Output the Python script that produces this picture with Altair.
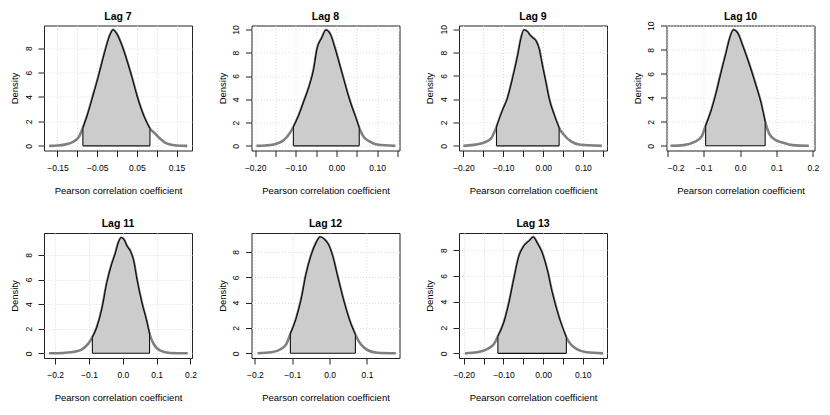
import json
import altair as alt
import pandas as pd

# ---------------- data ----------------
LAGS = ["Lag 7", "Lag 8", "Lag 9", "Lag 10", "Lag 11", "Lag 12", "Lag 13"]

LAG7_X = [-0.171, -0.150, -0.133, -0.108, -0.096, -0.086, -0.075, -0.058, -0.050, -0.042, -0.029, -0.017,
          -0.010, 0.000, 0.0125, 0.025, 0.0375, 0.050, 0.067, 0.083, 0.096, 0.108, 0.125, 0.150, 0.177]
LAG7_Y = [0.0, 0.03, 0.10, 0.38, 0.73, 1.46, 2.49, 4.39, 5.3, 6.29, 7.9, 9.13,
          9.49, 9.13, 8.19, 6.97, 5.6, 4.12, 2.49, 1.41, 1.0, 0.6, 0.2, 0.03, 0.0]
LAG7_CI = [-0.086, 0.083]

LAG8_X = [-0.197, -0.175, -0.155, -0.130, -0.106, -0.093, -0.081, -0.068, -0.056, -0.048, -0.036, -0.026,
          -0.015, -0.003, 0.0096, 0.022, 0.034, 0.047, 0.056, 0.067, 0.0836, 0.100, 0.145]
LAG8_Y = [0.0, 0.03, 0.11, 0.48, 1.62, 2.61, 3.75, 5.03, 6.59, 8.3, 9.29, 9.94,
          9.57, 8.3, 6.73, 5.17, 3.75, 2.47, 1.53, 0.77, 0.34, 0.11, 0.0]
LAG8_CI = [-0.106, 0.056]

LAG9_X = [-0.200, -0.156, -0.131, -0.117, -0.102, -0.090, -0.077, -0.064, -0.056, -0.048, -0.039, -0.033,
          -0.027, -0.018, -0.010, -0.002, 0.0067, 0.015, 0.028, 0.040, 0.053, 0.069, 0.090, 0.147]
LAG9_Y = [0.0, 0.2, 0.63, 1.62, 3.04, 4.03, 5.74, 7.73, 9.15, 9.94, 9.77, 9.49,
          9.29, 9.0, 8.3, 6.88, 5.45, 4.03, 2.61, 1.53, 0.91, 0.4, 0.11, 0.0]
LAG9_CI = [-0.117, 0.040]

LAG10_X = [-0.191, -0.156, -0.125, -0.106, -0.0945, -0.079, -0.065, -0.052, -0.038, -0.029, -0.018,
           -0.0064, 0.0073, 0.025, 0.0436, 0.057, 0.069, 0.080, 0.098, 0.116, 0.144, 0.189]
LAG10_Y = [0.0, 0.06, 0.33, 0.75, 1.66, 2.96, 4.48, 6.13, 7.79, 8.9, 9.67,
           9.39, 8.34, 6.82, 5.03, 3.65, 1.99, 1.02, 0.47, 0.28, 0.06, 0.0]
LAG10_CI = [-0.0945, 0.069]

LAG11_X = [-0.218, -0.176, -0.136, -0.112, -0.090, -0.077, -0.062, -0.047, -0.033, -0.023, -0.013, -0.005,
           0.004, 0.012, 0.022, 0.032, 0.0415, 0.056, 0.069, 0.079, 0.091, 0.111, 0.140, 0.192]
LAG11_Y = [0.0, 0.03, 0.16, 0.49, 1.3, 2.1, 3.6, 5.76, 7.24, 8.05, 9.0, 9.4,
           9.22, 8.73, 8.32, 7.51, 6.03, 4.14, 2.78, 1.57, 0.76, 0.22, 0.03, 0.0]
LAG11_CI = [-0.090, 0.079]

LAG12_X = [-0.193, -0.156, -0.130, -0.116, -0.105, -0.090, -0.076, -0.063, -0.050, -0.036, -0.025,
           -0.014, -0.0035, 0.008, 0.021, 0.039, 0.057, 0.069, 0.083, 0.101, 0.128, 0.177]
LAG12_Y = [0.0, 0.08, 0.34, 0.73, 1.52, 2.7, 4.28, 6.25, 7.69, 8.74, 9.19,
           9.0, 8.61, 7.69, 6.12, 4.02, 2.31, 1.47, 0.73, 0.26, 0.05, 0.0]
LAG12_CI = [-0.105, 0.069]

LAG13_X = [-0.197, -0.166, -0.141, -0.124, -0.114, -0.099, -0.086, -0.074, -0.061, -0.049, -0.036,
           -0.025, -0.015, -0.0025, 0.010, 0.023, 0.039, 0.0586, 0.069, 0.085, 0.110, 0.151]
LAG13_Y = [0.0, 0.08, 0.33, 0.72, 1.31, 2.39, 3.93, 5.73, 7.53, 8.3, 8.69,
           9.0, 8.56, 7.79, 6.5, 4.7, 2.9, 1.23, 0.72, 0.33, 0.08, 0.0]
LAG13_CI = [-0.114, 0.0586]

# axis ranges
X_DOMAINS = [[-0.184, 0.189], [-0.209, 0.155], [-0.211, 0.160], [-0.202, 0.2045],
             [-0.233, 0.2045], [-0.209, 0.187], [-0.212, 0.161]]
Y_DOMAINS = [[-0.38, 9.85], [-0.40, 10.34], [-0.40, 10.32], [-0.39, 10.03],
             [-0.38, 9.78], [-0.37, 9.5], [-0.36, 9.32]]

# tick positions and labels
TICKS_05_A = [-0.15, -0.10, -0.05, 0.0, 0.05, 0.10, 0.15]
TICKS_05_B = [-0.20, -0.15, -0.10, -0.05, 0.0, 0.05, 0.10, 0.15]
TICKS_1_A = [-0.2, -0.1, 0.0, 0.1, 0.2]
TICKS_1_B = [-0.2, -0.1, 0.0, 0.1]
X_TICKS = [TICKS_05_A, TICKS_05_B, TICKS_05_B, TICKS_1_A, TICKS_1_A, TICKS_1_B, TICKS_05_B]
X_LABELS = [[-0.15, -0.05, 0.05, 0.15], [-0.2, -0.1, 0.0, 0.1], [-0.2, -0.1, 0.0, 0.1],
            TICKS_1_A, TICKS_1_A, TICKS_1_B, [-0.2, -0.1, 0.0, 0.1]]
X_FORMATS = [".2f", ".2f", ".2f", ".1f", ".1f", ".1f", ".2f"]
Y_TICKS = [[0, 2, 4, 6, 8], [0, 2, 4, 6, 8, 10], [0, 2, 4, 6, 8, 10], [0, 2, 4, 6, 8, 10],
           [0, 2, 4, 6, 8], [0, 2, 4, 6, 8], [0, 2, 4, 6, 8]]

SERIES = [(LAG7_X, LAG7_Y, LAG7_CI), (LAG8_X, LAG8_Y, LAG8_CI), (LAG9_X, LAG9_Y, LAG9_CI),
          (LAG10_X, LAG10_Y, LAG10_CI), (LAG11_X, LAG11_Y, LAG11_CI), (LAG12_X, LAG12_Y, LAG12_CI),
          (LAG13_X, LAG13_Y, LAG13_CI)]

FONT = "Liberation Sans"
# title offset: Lag 10's "10" label pokes above the frame, so its title sits a bit closer
TITLE_OFFSETS = [2.5, 2.5, 2.5, -1.5, 2.5, 2.5, 2.5]


def panel(i):
    xs, ys, ci = SERIES[i]
    df = pd.DataFrame({"x": xs, "y": ys})
    df["y0"] = 0.0
    inner = df[(df.x >= ci[0]) & (df.x <= ci[1])].reset_index(drop=True)
    edges = inner.iloc[[0, len(inner) - 1]]
    base = pd.DataFrame({"x": [ci[0]], "x2": [ci[1]], "y": [0.0]})

    label_expr = "indexof(%s, datum.value) >= 0 ? format(datum.value, '%s') : ''" % (
        json.dumps(X_LABELS[i]), X_FORMATS[i])
    X = alt.X("x:Q", scale=alt.Scale(domain=X_DOMAINS[i], nice=False, zero=False),
              axis=alt.Axis(values=X_TICKS[i], labelExpr=label_expr,
                            title="Pearson correlation coefficient"))
    Y = alt.Y("y:Q", scale=alt.Scale(domain=Y_DOMAINS[i], nice=False, zero=False),
              axis=alt.Axis(values=Y_TICKS[i], format="d", title="Density"))

    gray = alt.Chart(df).mark_line(color="#808080", strokeWidth=2.6, interpolate="monotone").encode(x=X, y=Y)
    fill = alt.Chart(inner).mark_area(color="#cccccc", opacity=1, interpolate="monotone").encode(
        x=X, y=Y, y2=alt.Y2("y0"))
    black = alt.Chart(inner).mark_line(color="#111111", strokeWidth=1.3, interpolate="monotone").encode(x=X, y=Y)
    sides = alt.Chart(edges).mark_rule(color="#111111", strokeWidth=1.1).encode(x=X, y=Y, y2=alt.Y2("y0"))
    bottom = alt.Chart(base).mark_rule(color="#111111", strokeWidth=1.1).encode(x=X, x2=alt.X2("x2"), y=Y)

    return alt.layer(gray, fill, black, sides, bottom).properties(
        width=148, height=125, title=alt.TitleParams(LAGS[i], offset=TITLE_OFFSETS[i]))


chart = alt.concat(*[panel(i) for i in range(7)], columns=4,
                   spacing={"row": 82.5, "column": 59.5}, bounds="flush").properties(
    padding={"left": 0, "top": 2.5, "right": 2, "bottom": 2},
    background="white",
).configure_view(
    stroke="#222222", strokeWidth=1,
).configure_axis(
    labelFont=FONT, labelFontSize=8.5, labelColor="black",
    titleFont=FONT, titleFontSize=9.5, titleFontWeight="normal", titleColor="black",
    tickColor="#222222", tickSize=6, tickWidth=1, domain=False,
    grid=True, gridColor="#dadada", gridDash=[1, 2], gridWidth=1,
).configure_axisX(
    labelPadding=6.5, titlePadding=13.5,
).configure_axisY(
    labelAngle=270, labelAlign="center", labelBaseline="bottom", labelPadding=5, titlePadding=4.5,
).configure_title(
    font=FONT, fontSize=10.5, fontWeight="bold", color="black", anchor="middle",
)

chart.save("out.html", embed_options={"renderer": "svg", "actions": False})
